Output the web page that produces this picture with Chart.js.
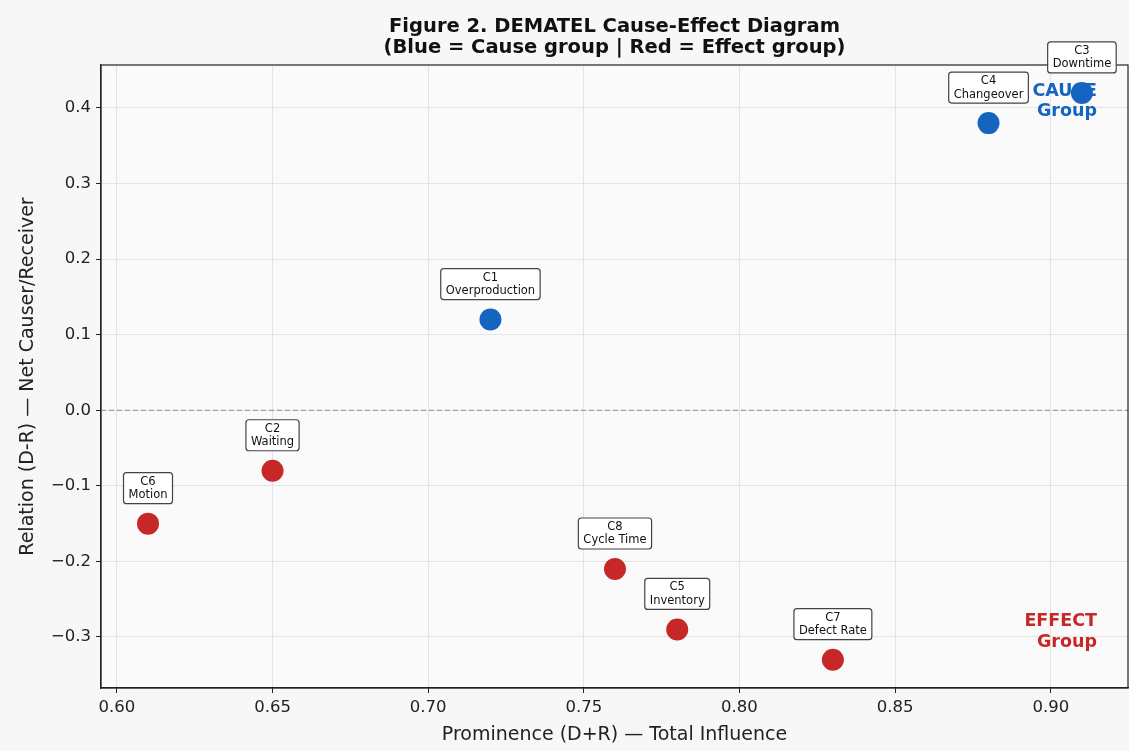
<!DOCTYPE html>
<html>
<head>
<meta charset="utf-8">
<script src="https://cdn.jsdelivr.net/npm/chart.js@4.4.1/dist/chart.umd.min.js"></script>
<style>
  html, body { margin: 0; padding: 0; background: #f7f7f7; }
  #wrap { width: 1129px; height: 751px; }
</style>
</head>
<body>
<div id="wrap"><canvas id="dematel" width="1129" height="751"></canvas></div>
<script>
const codes = ['C1', 'C2', 'C3', 'C4', 'C5', 'C6', 'C7', 'C8'];
const names = ['Overproduction', 'Waiting', 'Downtime', 'Changeover', 'Inventory', 'Motion', 'Defect Rate', 'Cycle Time'];
const prominence = [0.72, 0.65, 0.91, 0.88, 0.78, 0.61, 0.83, 0.76];
const relation = [0.12, -0.08, 0.42, 0.38, -0.29, -0.15, -0.33, -0.21];
const xTicks = [0.60, 0.65, 0.70, 0.75, 0.80, 0.85, 0.90];
const yTicks = [-0.3, -0.2, -0.1, 0.0, 0.1, 0.2, 0.3, 0.4];

const BLUE = '#1565c0';
const RED = '#c62828';
const FONT = '"DejaVu Sans", sans-serif';

const points = codes.map((c, i) => ({ x: prominence[i], y: relation[i] }));
const colors = relation.map(v => v > 0 ? BLUE : RED);

// title, frame, zero line, group notes and point labels
const decor = {
    id: 'decor',
    beforeDatasetsDraw(chart) {
        const { ctx, chartArea: a, scales } = chart;
        const y0 = scales.y.getPixelForValue(0);
        ctx.save();
        ctx.strokeStyle = '#9e9e9e';
        ctx.lineWidth = 1.2;
        ctx.setLineDash([5, 3]);
        ctx.beginPath();
        ctx.moveTo(a.left, y0);
        ctx.lineTo(a.right, y0);
        ctx.stroke();
        ctx.setLineDash([]);

        // group notes (drawn under the points)
        ctx.font = 'bold 17.5px ' + FONT;
        ctx.textAlign = 'right';
        ctx.textBaseline = 'middle';
        ctx.fillStyle = BLUE;
        ctx.fillText('CAUSE', a.right - 31, 91);
        ctx.fillText('Group', a.right - 31, 111);
        ctx.fillStyle = RED;
        ctx.fillText('EFFECT', a.right - 31, 621);
        ctx.fillText('Group', a.right - 31, 642);
        ctx.restore();
    },
    afterDraw(chart) {
        const { ctx, chartArea: a, scales } = chart;
        ctx.save();
        // frame
        ctx.strokeStyle = '#222';
        ctx.lineWidth = 1.2;
        ctx.strokeRect(a.left, a.top, a.right - a.left, a.bottom - a.top);

        // title
        ctx.fillStyle = '#111';
        ctx.font = 'bold 19.5px ' + FONT;
        ctx.textAlign = 'center';
        ctx.textBaseline = 'middle';
        const cx = (a.left + a.right) / 2;
        ctx.fillText('Figure 2. DEMATEL Cause-Effect Diagram', cx, 27);
        ctx.fillText('(Blue = Cause group | Red = Effect group)', cx, 48);

        // point labels
        ctx.font = '11.5px ' + FONT;
        codes.forEach((c, i) => {
            const px = scales.x.getPixelForValue(prominence[i]);
            const py = scales.y.getPixelForValue(relation[i]);
            const w = Math.max(ctx.measureText(c).width, ctx.measureText(names[i]).width) + 10;
            const h = 31;
            const bx = px - w / 2;
            const by = py - 20 - h;
            ctx.beginPath();
            ctx.roundRect(bx, by, w, h, 3);
            ctx.fillStyle = 'rgba(255,255,255,0.95)';
            ctx.fill();
            ctx.strokeStyle = '#444';
            ctx.lineWidth = 1.2;
            ctx.stroke();
            ctx.fillStyle = '#111';
            ctx.fillText(c, px, by + 9);
            ctx.fillText(names[i], px, by + 22.5);
        });
        ctx.restore();
    }
};

const plotBg = {
    id: 'plotBg',
    beforeDraw(chart) {
        const { ctx, chartArea: a } = chart;
        ctx.save();
        ctx.fillStyle = '#f7f7f7';
        ctx.fillRect(0, 0, chart.width, chart.height);
        ctx.fillStyle = '#fafafa';
        ctx.fillRect(a.left, a.top, a.right - a.left, a.bottom - a.top);
        ctx.restore();
    }
};

new Chart(document.getElementById('dematel').getContext('2d'), {
    type: 'scatter',
    data: {
        datasets: [{
            data: points,
            backgroundColor: colors,
            borderColor: colors,
            borderWidth: 0,
            pointRadius: 11,
            pointHoverRadius: 11,
            clip: false
        }]
    },
    options: {
        responsive: false,
        animation: false,
        events: [],
        layout: { autoPadding: false, padding: { top: 65, right: 1, left: 0, bottom: 0 } },
        plugins: {
            legend: { display: false },
            tooltip: { enabled: false },
            title: { display: false }
        },
        scales: {
            x: {
                type: 'linear',
                min: 0.5949,
                max: 0.9248,
                afterBuildTicks: s => { s.ticks = xTicks.map(v => ({ value: v })); },
                afterFit: s => { s.height = 63; s.paddingLeft = 0; s.paddingRight = 0; },
                ticks: {
                    color: '#222',
                    font: { family: FONT, size: 16.5 },
                    padding: 5,
                    callback: v => v.toFixed(2)
                },
                grid: { color: '#e4e4e4', tickColor: '#222', tickLength: 5 },
                border: { color: '#222', width: 1.2 },
                title: {
                    display: true,
                    text: 'Prominence (D+R) — Total Influence',
                    color: '#222',
                    font: { family: FONT, size: 19 },
                    padding: { top: 4, bottom: 5 }
                }
            },
            y: {
                type: 'linear',
                min: -0.3675,
                max: 0.4569,
                afterBuildTicks: s => { s.ticks = yTicks.map(v => ({ value: v })); },
                afterFit: s => { s.width = 101; s.paddingTop = 0; s.paddingBottom = 0; },
                ticks: {
                    color: '#222',
                    font: { family: FONT, size: 16.5 },
                    padding: 5,
                    callback: v => v.toFixed(1).replace('-', '\u2212')
                },
                grid: { color: '#e4e4e4', tickColor: '#222', tickLength: 5 },
                border: { color: '#222', width: 1.2 },
                title: {
                    display: true,
                    text: 'Relation (D-R) — Net Causer/Receiver',
                    color: '#222',
                    font: { family: FONT, size: 19 },
                    padding: { top: 17, bottom: 4 }
                }
            }
        }
    },
    plugins: [plotBg, decor]
});
</script>
</body>
</html>
